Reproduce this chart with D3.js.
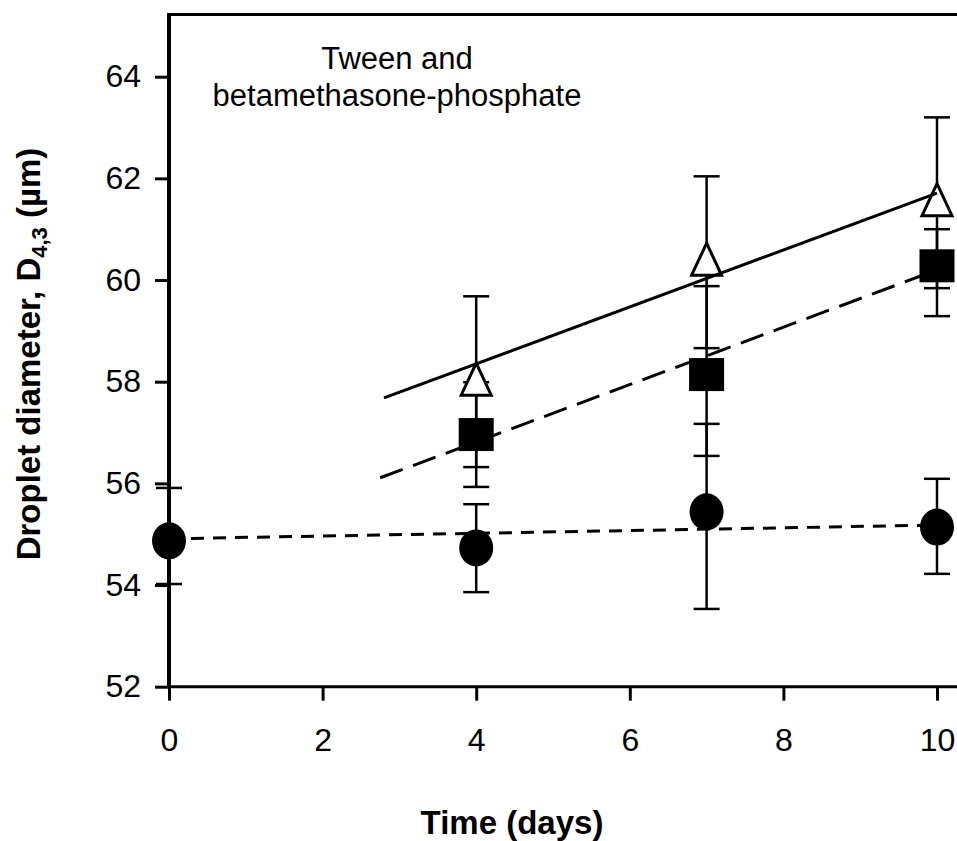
<!DOCTYPE html>
<html lang="en">
<head>
  <meta charset="UTF-8">
  <title>Droplet diameter vs time</title>
  <script src="https://d3js.org/d3.v7.min.js"></script>
  <style>
    body {
      margin: 0;
      background-color: #fff;
    }
    svg text {
      font-family: "Liberation Sans", Arial, sans-serif;
      fill: #000;
    }
  </style>
</head>
<body>
<div id="chart"></div>

<script>
  const circDays = [0, 4, 7, 10];
  const circMean = [54.87, 54.73, 55.44, 55.14];
  const circHi = [55.91, 55.59, 57.17, 56.09];
  const circLo = [54.02, 53.86, 53.53, 54.22];

  const sqDays = [4, 7, 10];
  const sqMean = [56.96, 58.14, 60.28];
  const sqHi = [57.99, 59.88, 61.0];
  const sqLo = [55.93, 56.54, 59.29];

  const triDays = [4, 7, 10];
  const triMean = [58.05, 60.41, 61.58];
  const triHi = [59.68, 62.04, 63.2];
  const triLo = [56.32, 58.66, 59.84];

  // Trend line end points [day, diameter]
  const triTrend = [[2.8, 57.68], [10, 61.71]];
  const sqTrend = [[2.75, 56.11], [10, 60.2]];
  const circTrend = [[0, 54.91], [10, 55.18]];

  const xTicks = [0, 2, 4, 6, 8, 10];
  const yTicks = [52, 54, 56, 58, 60, 62, 64];

  const width = 957, height = 841;

  const svg = d3.select("#chart")
    .append("svg")
    .attr("width", width)
    .attr("height", height);

  const x = d3.scaleLinear().domain([0, 10]).range([169, 937]);
  const y = d3.scaleLinear().domain([52, 64]).range([686.7, 76.7]);
  const yTop = 14.5;

  // Axes
  const xAxis = svg.append("g")
    .attr("transform", `translate(0,${y(52)})`)
    .call(d3.axisBottom(x).tickValues(xTicks).tickSize(14).tickSizeOuter(0).tickPadding(28));
  xAxis.select(".domain").remove();
  xAxis.selectAll("line").attr("stroke-width", 3);
  xAxis.selectAll("text").style("font-size", "32px");

  const yAxis = svg.append("g")
    .attr("transform", `translate(${x(0)},0)`)
    .call(d3.axisLeft(y).tickValues(yTicks).tickSize(14).tickSizeOuter(0).tickPadding(14));
  yAxis.select(".domain").remove();
  yAxis.selectAll("line").attr("stroke-width", 3);
  yAxis.selectAll("text").style("font-size", "32px");

  // frame lines: left axis, bottom axis, top border
  svg.append("line")
    .attr("x1", x(0)).attr("x2", x(0))
    .attr("y1", yTop).attr("y2", y(52))
    .attr("stroke", "#000").attr("stroke-width", 4);
  svg.append("line")
    .attr("x1", x(0)).attr("x2", width)
    .attr("y1", y(52)).attr("y2", y(52))
    .attr("stroke", "#000").attr("stroke-width", 3);
  svg.append("line")
    .attr("x1", x(0) - 2).attr("x2", width)
    .attr("y1", yTop).attr("y2", yTop)
    .attr("stroke", "#000").attr("stroke-width", 3);

  // Error bars
  function errorBars(days, hi, lo) {
    const g = svg.append("g").attr("stroke", "#000").attr("stroke-width", 2.5);
    days.forEach((d, i) => {
      g.append("line")
        .attr("x1", x(d)).attr("x2", x(d))
        .attr("y1", y(hi[i])).attr("y2", y(lo[i]));
      [hi[i], lo[i]].forEach(v => {
        g.append("line")
          .attr("x1", x(d) - 13).attr("x2", x(d) + 13)
          .attr("y1", y(v)).attr("y2", y(v));
      });
    });
  }
  errorBars(circDays, circHi, circLo);
  errorBars(sqDays, sqHi, sqLo);
  errorBars(triDays, triHi, triLo);

  // Markers
  svg.selectAll(".circ")
    .data(circDays)
    .enter().append("ellipse")
    .attr("cx", d => x(d))
    .attr("cy", (d, i) => y(circMean[i]))
    .attr("rx", 17).attr("ry", 18.5)
    .attr("fill", "#000");

  svg.selectAll(".sq")
    .data(sqDays)
    .enter().append("rect")
    .attr("x", d => x(d) - 17.5)
    .attr("y", (d, i) => y(sqMean[i]) - 16.5)
    .attr("width", 35).attr("height", 33)
    .attr("fill", "#000");

  svg.selectAll(".tri")
    .data(triDays)
    .enter().append("path")
    .attr("d", (d, i) => {
      const cx = x(d), cy = y(triMean[i]);
      return `M${cx},${cy - 16}L${cx + 15},${cy + 16}L${cx - 15},${cy + 16}Z`;
    })
    .attr("fill", "#fff")
    .attr("stroke", "#000")
    .attr("stroke-width", 3)
    .attr("stroke-linejoin", "miter");

  // Trend lines
  const line = d3.line().x(d => x(d[0])).y(d => y(d[1]));
  svg.append("path").attr("d", line(triTrend))
    .attr("fill", "none").attr("stroke", "#000").attr("stroke-width", 3);
  svg.append("path").attr("d", line(sqTrend))
    .attr("fill", "none").attr("stroke", "#000").attr("stroke-width", 3)
    .attr("stroke-dasharray", "24,11");
  svg.append("path").attr("d", line(circTrend))
    .attr("fill", "none").attr("stroke", "#000").attr("stroke-width", 3)
    .attr("stroke-dasharray", "13,9");

  // Annotation
  const note = svg.append("text")
    .attr("text-anchor", "middle")
    .style("font-size", "31px");
  note.append("tspan").attr("x", 397).attr("y", 69).text("Tween and");
  note.append("tspan").attr("x", 397).attr("y", 106).text("betamethasone-phosphate");

  // Axis titles
  svg.append("text")
    .attr("x", 512).attr("y", 834)
    .attr("text-anchor", "middle")
    .style("font-size", "33px")
    .style("font-weight", "bold")
    .text("Time (days)");

  const yTitle = svg.append("text")
    .attr("transform", "translate(40,354) rotate(-90)")
    .attr("text-anchor", "middle")
    .style("font-size", "33px")
    .style("font-weight", "bold");
  yTitle.append("tspan").text("Droplet diameter, D");
  yTitle.append("tspan").attr("dy", 7).style("font-size", "22px").text("4,3");
  yTitle.append("tspan").attr("dy", -7).text(" (\u00b5m)");
</script>
</body>
</html>
